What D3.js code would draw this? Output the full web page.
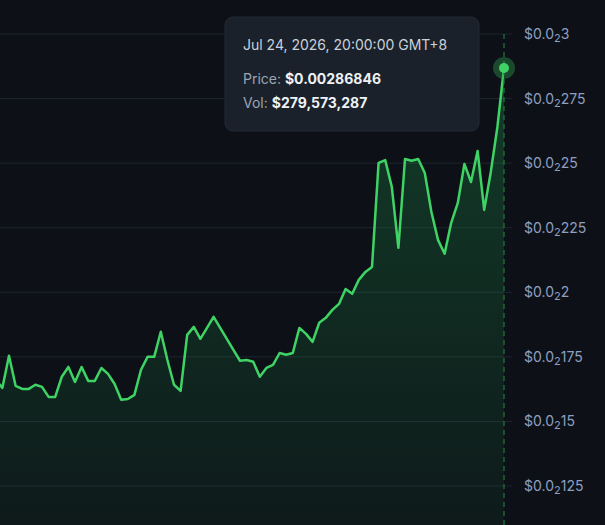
<!DOCTYPE html>
<html>
<head>
<meta charset="utf-8">
<script src="https://cdn.jsdelivr.net/npm/d3@7"></script>
<style>
  html, body { margin: 0; padding: 0; background: #0d1117; }
  svg { display: block; font-family: Inter, "Noto Sans", sans-serif; }
</style>
</head>
<body>
<div id="chart"></div>
<script>
// price points (hourly), the last one is the hovered point
const prices = [
  0.001661, 0.00163, 0.001754, 0.001638, 0.001626, 0.001626, 0.001642, 0.001634,
  0.001595, 0.001595, 0.001673, 0.001711, 0.001653, 0.001711, 0.001657, 0.001657,
  0.001707, 0.001684, 0.001645, 0.001584, 0.001587, 0.001603, 0.0017, 0.00175,
  0.00175, 0.001847, 0.001738, 0.001642, 0.001618, 0.001835, 0.001866, 0.00182,
  0.001862, 0.001905, 0.001862, 0.00182, 0.001777, 0.001735, 0.001738, 0.001731,
  0.001673, 0.001707, 0.001719, 0.001765, 0.001758, 0.001765, 0.001862, 0.001839,
  0.001808, 0.001882, 0.001901, 0.001932, 0.001955, 0.002013, 0.001994, 0.002048,
  0.002079, 0.002098, 0.002501, 0.002512, 0.002408, 0.002172, 0.002516, 0.002509,
  0.002516, 0.002462, 0.002311, 0.002203, 0.002149, 0.002269, 0.002346, 0.002497,
  0.002427, 0.002547, 0.002319, 0.002466, 0.00264, 0.00286846
];
const yTicks = [0.00125, 0.0015, 0.00175, 0.002, 0.00225, 0.0025, 0.00275, 0.003];
const hoverDate = "Jul 24, 2026, 20:00:00 GMT+8";
const hoverVol = 279573287;

const width = 605, height = 525;
const plotRight = 504;

const svg = d3.select("#chart").append("svg")
  .attr("width", width)
  .attr("height", height);

svg.append("rect").attr("width", width).attr("height", height).attr("fill", "#0d1117");

const x = d3.scaleLinear().domain([0, prices.length - 1]).range([-4.2, plotRight]);
const y = d3.scaleLinear().domain([0.00125, 0.003]).range([486, 34]);

// gradient for the area
const defs = svg.append("defs");
const grad = defs.append("linearGradient")
  .attr("id", "areaGrad").attr("x1", 0).attr("y1", 0).attr("x2", 0).attr("y2", 1);
grad.append("stop").attr("offset", "0%").attr("stop-color", "#22c55e").attr("stop-opacity", 0.24);
grad.append("stop").attr("offset", "100%").attr("stop-color", "#22c55e").attr("stop-opacity", 0.05);

defs.append("clipPath").attr("id", "plotClip")
  .append("rect").attr("x", 0).attr("y", 0).attr("width", plotRight).attr("height", height);

// grid lines
svg.append("g").selectAll("line")
  .data(yTicks)
  .join("line")
  .attr("x1", 0).attr("x2", 512)
  .attr("y1", d => y(d)).attr("y2", d => y(d))
  .attr("stroke", "#1e252e").attr("stroke-width", 1);

const area = d3.area()
  .x((d, i) => x(i))
  .y0(height)
  .y1(d => y(d));

const line = d3.line()
  .x((d, i) => x(i))
  .y(d => y(d));

const plot = svg.append("g").attr("clip-path", "url(#plotClip)");
plot.append("path").datum(prices).attr("d", area).attr("fill", "url(#areaGrad)");
plot.append("path").datum(prices).attr("d", line)
  .attr("fill", "none").attr("stroke", "#3fd365").attr("stroke-width", 2.5)
  .attr("stroke-linejoin", "round");

// crosshair
const last = prices.length - 1;
svg.append("line")
  .attr("x1", x(last)).attr("x2", x(last))
  .attr("y1", 34).attr("y2", height)
  .attr("stroke", "#1f7a3c").attr("stroke-width", 1.2)
  .attr("stroke-dasharray", "5,4");

svg.append("circle").attr("cx", x(last)).attr("cy", y(prices[last]))
  .attr("r", 11).attr("fill", "#2f9e4f").attr("opacity", 0.4);
svg.append("circle").attr("cx", x(last)).attr("cy", y(prices[last]))
  .attr("r", 5).attr("fill", "#3fd365");

// y axis labels with subscript zero count
const axis = svg.append("g");
yTicks.forEach(v => {
  const s = v.toFixed(8);
  const dec = s.split(".")[1];
  const zeros = dec.match(/^0*/)[0].length;
  const digits = dec.slice(zeros).replace(/0+$/, "");
  const t = axis.append("text")
    .attr("x", 524).attr("y", y(v) + 5)
    .attr("fill", "#8e9fc0").attr("font-size", 14);
  t.append("tspan").text("$0.0");
  t.append("tspan").attr("font-size", 11).attr("dy", 3).text(zeros);
  t.append("tspan").attr("dy", -3).text(digits);
});

// tooltip
const tip = svg.append("g").attr("transform", "translate(225,17)");
tip.append("rect")
  .attr("width", 254).attr("height", 114).attr("rx", 8)
  .attr("fill", "#1b212a").attr("stroke", "#232a34");
tip.append("text").attr("x", 18).attr("y", 33)
  .attr("fill", "#c9d1db").attr("font-size", 14).text(hoverDate);
const p = tip.append("text").attr("x", 18).attr("y", 67).attr("font-size", 14);
p.append("tspan").attr("fill", "#9aa5b3").text("Price: ");
p.append("tspan").attr("fill", "#eef2f6").attr("font-weight", 700).text("$" + prices[last].toFixed(8));
const vt = tip.append("text").attr("x", 18).attr("y", 91).attr("font-size", 14);
vt.append("tspan").attr("fill", "#9aa5b3").text("Vol: ");
vt.append("tspan").attr("fill", "#eef2f6").attr("font-weight", 700).text("$" + d3.format(",")(hoverVol));
</script>
</body>
</html>
